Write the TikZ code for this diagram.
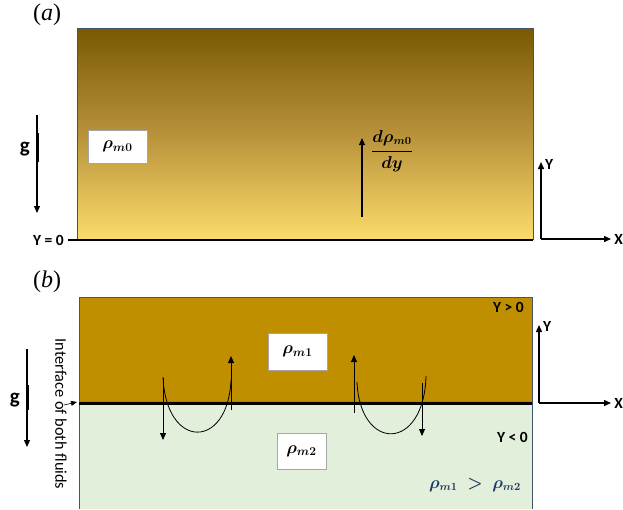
\documentclass[tikz,border=0pt]{standalone}
\usepackage{amsmath,amssymb,bm}
\usepackage{fontspec}
\setmainfont{Carlito}
\newfontfamily\lserif{Liberation Serif}
\usepackage{xcolor}
\definecolor{fdark}{HTML}{7A5903}
\definecolor{fmid}{HTML}{B8923A}
\definecolor{flight}{HTML}{FCDC6B}
\definecolor{fgold}{HTML}{BF8F00}
\definecolor{fgreen}{HTML}{E2EFDA}
\definecolor{edge}{HTML}{44546A}
\definecolor{dblue}{HTML}{1F3864}
\usetikzlibrary{arrows.meta,positioning,calc}
\tikzset{
  >={Triangle[length=7pt,width=6pt]},
  rbox/.style={draw=gray!70,fill=white,line width=0.8pt,inner sep=0pt,minimum width=59pt,minimum height=35pt,font=\fontsize{17}{18}\selectfont},
  lab/.style={font=\bfseries\fontsize{15.5}{17}\selectfont,inner sep=0pt},
  alab/.style={font=\bfseries\fontsize{15.5}{17}\selectfont,inner sep=0pt},
  glab/.style={font=\bfseries\fontsize{21}{22}\selectfont,inner sep=0pt},
  plab/.style={font=\lserif\fontsize{24}{26}\selectfont,inner sep=0pt},
  arr/.style={->,line width=1.1pt},
  eddy/.style={line width=0.8pt},
}

\begin{document}
\begin{tikzpicture}[x=1pt,y=-1pt]
\useasboundingbox (0,0) rectangle (623,509);
% (a)
\shade[top color=fdark,bottom color=flight,middle color=fmid] (77,28) rectangle (533,240);
\draw[edge,line width=0.8pt] (77,240) -- (77,28) -- (533,28) -- (533,240);
\node[plab] (pa) at (47,15) {(\textit{a})};
\node[lab,anchor=east] (y0) at (64,240) {Y = 0};
\coordinate (y0r) at (533,240);
\draw[line width=1.6pt] (y0.east) ++(4,0) -- (y0r);
\node[rbox,minimum height=33pt] (r0) at (117.5,146.5) {$\bm{\rho_{m0}}$};
\coordinate (ga1) at (37,115); \coordinate (ga2) at (37,213);
\draw[arr] (ga1) -- (ga2);
\draw[line width=3pt] (37,133) -- (37,162);
\node[glab,anchor=east] (ga) at (30,149) {g};
\coordinate (dr1) at (362,217); \coordinate (dr2) at (362,138);
\draw[arr] (dr1) -- (dr2);
\node[font=\fontsize{16}{18}\selectfont] (dr) at (392,151) {$\bm{\dfrac{d\rho_{m0}}{dy}}$};
\coordinate (oa) at (541,239); \coordinate (ya) at (541,162); \coordinate (xa) at (611,239);
\draw[arr,line width=1.4pt] (oa) -- (ya);
\draw[arr,line width=1.4pt] (oa) -- (xa);
\node[alab,anchor=west] (yla) at (545,164) {Y};
\node[alab,anchor=east] (xla) at (623,239) {X};
% (b)
\fill[fgold] (79,297) rectangle (532,403);
\fill[fgreen] (79,403) rectangle (532,509);
\draw[edge,line width=0.8pt] (79,509) -- (79,297) -- (532,297) -- (532,509);
\draw[gray,line width=4pt] (79,403) -- (532,403);
\draw[black,line width=2.6pt] (79,403.5) -- (532,403.5);
\node[plab] (pb) at (47,282) {(\textit{b})};
\node[lab,anchor=east] (ygt) at (524,307) {Y > 0};
\node[lab,anchor=east] (ylt) at (528,437) {Y < 0};
\node[font=\fontsize{16}{18}\selectfont,text=dblue] (ineq) at (475,485) {$\bm{\rho_{m1}}\;\bm{>}\;\bm{\rho_{m2}}$};
\node[rbox,minimum height=37pt] (r1) at (297.5,351.5) {$\bm{\rho_{m1}}$};
\node[rbox,minimum width=49pt,minimum height=36pt] (r2) at (301.5,451) {$\bm{\rho_{m2}}$};
\coordinate (gb1) at (27,349); \coordinate (gb2) at (27,447);
\draw[arr] (gb1) -- (gb2);
\draw[line width=3pt] (27,385) -- (27,410);
\node[glab,anchor=east] (gb) at (20,400) {g};
\node[rotate=-90,font=\fontsize{16.3}{18}\selectfont,inner sep=0pt] (itf) at (61,414) {Interface of both fluids};
\coordinate (ip1) at (64,405); \coordinate (ip2) at (77,402);
\draw[->,>={Triangle[length=6pt,width=5pt]},line width=0.6pt] (ip1) -- (ip2);
% eddies
\coordinate (e1a) at (163,377); \coordinate (e1b) at (231,380);
\draw[eddy] (e1a) .. controls (166,450) and (228,450) .. (e1b);
\coordinate (d1a) at (163,378); \coordinate (d1b) at (163,440);
\draw[arr,line width=0.8pt] (d1a) -- (d1b);
\coordinate (u1a) at (231,410); \coordinate (u1b) at (231,356);
\draw[arr,line width=0.8pt] (u1a) -- (u1b);
\coordinate (e2a) at (357,382); \coordinate (e2b) at (426,376);
\draw[eddy] (e2a) .. controls (360,452) and (424,452) .. (e2b);
\coordinate (u2a) at (354,413); \coordinate (u2b) at (354,355);
\draw[arr,line width=0.8pt] (u2a) -- (u2b);
\coordinate (d2a) at (422,383); \coordinate (d2b) at (422,436);
\draw[arr,line width=0.8pt] (d2a) -- (d2b);
\coordinate (ob) at (539,403); \coordinate (yb) at (539,325); \coordinate (xb) at (611,403);
\draw[arr,line width=1.4pt] (ob) -- (yb);
\draw[arr,line width=1.4pt] (ob) -- (xb);
\node[alab,anchor=west] (ylb) at (543,326) {Y};
\node[alab,anchor=east] (xlb) at (623,403) {X};
\end{tikzpicture}
\end{document}
